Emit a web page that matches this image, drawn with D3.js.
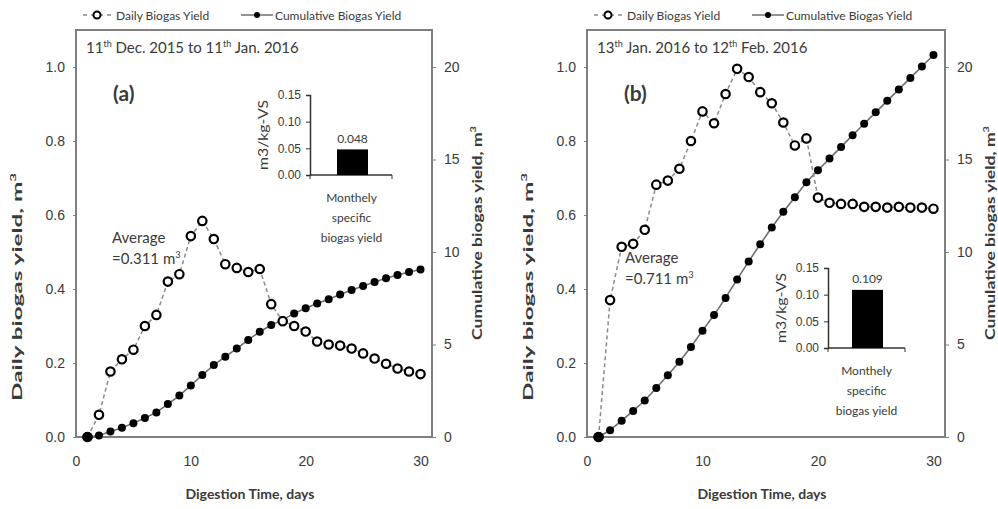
<!DOCTYPE html>
<html>
<head>
<meta charset="utf-8">
<script src="https://cdn.jsdelivr.net/npm/d3@7"></script>
<style>
  body { margin: 0; background: #fff; }
  svg { font-family: Lato, "Open Sans", sans-serif; }
  text { fill: #3a3a3a; }
</style>
</head>
<body>
<svg width="998" height="509"></svg>
<script>
// data
const days = d3.range(1, 31);

const dailyA = [0, 0.06, 0.177, 0.21, 0.236, 0.30, 0.33, 0.42, 0.44, 0.543,
  0.584, 0.535, 0.467, 0.457, 0.446, 0.454, 0.359, 0.313, 0.30, 0.285,
  0.258, 0.25, 0.247, 0.239, 0.226, 0.212, 0.198, 0.185, 0.177, 0.17];
const cumulativeA = [0, 0.08, 0.3, 0.5, 0.75, 1.03, 1.33, 1.78, 2.24, 2.79,
  3.35, 3.89, 4.34, 4.78, 5.25, 5.69, 6.05, 6.33, 6.68, 6.96,
  7.22, 7.45, 7.7, 7.94, 8.16, 8.38, 8.58, 8.76, 8.92, 9.05];

const dailyB = [0, 0.37, 0.514, 0.522, 0.56, 0.682, 0.693, 0.725, 0.80, 0.88,
  0.848, 0.927, 0.995, 0.973, 0.932, 0.902, 0.85, 0.788, 0.807, 0.647,
  0.633, 0.63, 0.63, 0.622, 0.622, 0.62, 0.622, 0.62, 0.62, 0.617];
const cumulativeB = [0, 0.37, 0.88, 1.41, 1.97, 2.65, 3.34, 4.07, 4.87, 5.75,
  6.59, 7.52, 8.52, 9.49, 10.42, 11.32, 12.17, 12.96, 13.77, 14.42,
  15.05, 15.68, 16.31, 16.93, 17.55, 18.17, 18.79, 19.41, 20.03, 20.65];

const specificYield = [0.048, 0.109];
const xTicks = [0, 10, 20, 30];
const yLeftTicks = [0, 0.2, 0.4, 0.6, 0.8, 1.0];
const yRightTicks = [0, 5, 10, 15, 20];
const insetTicks = [0, 0.05, 0.10, 0.15];

const panels = [
  {
    daily: dailyA, cumulative: cumulativeA, spec: specificYield[0],
    label: "(a)", from: ["11", "th", " Dec. 2015 to 11", "th", " Jan. 2016"],
    avg: "=0.311 m", left: 76, right: 432,
    avgPos: [112, 238], inset: {x0: 310, x1: 392, y0: 175, barX: 337, barW: 31}
  },
  {
    daily: dailyB, cumulative: cumulativeB, spec: specificYield[1],
    label: "(b)", from: ["13", "th", " Jan. 2016 to 12", "th", " Feb. 2016"],
    avg: "=0.711 m", left: 587, right: 945,
    avgPos: [625, 258], inset: {x0: 828, x1: 905, y0: 348, barX: 852, barW: 31}
  }
];

const plotTop = 30, plotBottom = 437;
const svg = d3.select("svg");
const grey = "#7f7f7f";

// text with a small raised "3" at the end
function withCube(sel, main, size) {
  sel.append("tspan").text(main);
  sel.append("tspan").attr("dy", -size * 0.4).attr("font-size", size * 0.62).text("3");
  return sel;
}

// rotated title, stretched along its length like the (vertically stretched) source image
function vTitle(g, cx, cy, main, len) {
  const t = withCube(g.append("text")
    .attr("text-anchor", "middle").attr("dy", "0.35em")
    .attr("font-weight", "bold").attr("font-size", 13.5), main, 13.5);
  const w = t.node().getComputedTextLength();
  t.attr("transform", `translate(${cx},${cy}) rotate(-90) scale(${len / w},1)`);
}

panels.forEach(p => {
  const g = svg.append("g");
  const x = d3.scaleLinear().domain([0, 31]).range([p.left, p.right]);
  const yL = d3.scaleLinear().domain([0, 1.1]).range([plotBottom, plotTop]);
  const yR = d3.scaleLinear().domain([0, 22]).range([plotBottom, plotTop]);

  // axes
  const ax = g.append("g").attr("transform", `translate(0,${plotBottom})`)
    .call(d3.axisBottom(x).tickValues(xTicks).tickSize(0).tickPadding(19));
  const ayL = g.append("g").attr("transform", `translate(${p.left},0)`)
    .call(d3.axisLeft(yL).tickValues(yLeftTicks).tickFormat(d3.format(".1f")).tickSize(3).tickPadding(8));
  const ayR = g.append("g").attr("transform", `translate(${p.right},0)`)
    .call(d3.axisRight(yR).tickValues(yRightTicks).tickSize(4).tickPadding(8));
  [ax, ayL, ayR].forEach(a => {
    a.select(".domain").remove();
    a.selectAll("line").attr("stroke", grey);
    a.selectAll("text").attr("font-size", 14).attr("fill", "#444");
  });

  // plot box
  g.append("rect")
    .attr("x", p.left).attr("y", plotTop)
    .attr("width", p.right - p.left).attr("height", plotBottom - plotTop)
    .attr("fill", "none").attr("stroke", grey).attr("stroke-width", 2);

  // axis titles
  vTitle(g, p.left - 59, 287, "Daily biogas yield, m", 228);
  vTitle(g, p.right + 45, 233, "Cumulative biogas yield, m", 214);
  g.append("text")
    .attr("x", (p.left + p.right) / 2 - 4).attr("y", 493)
    .attr("text-anchor", "middle").attr("dominant-baseline", "central")
    .attr("font-weight", "bold").attr("font-size", 14)
    .text("Digestion Time, days");

  // period text
  const t = g.append("text").attr("x", p.left + 10).attr("y", 53).attr("font-size", 15);
  p.from.forEach((s, i) => {
    const ts = t.append("tspan").text(s);
    if (i % 2 === 1) ts.attr("dy", -6).attr("font-size", 9);
    else if (i > 0) ts.attr("dy", 6);
  });

  g.append("text")
    .attr("x", p.left + 37).attr("y", 101)
    .attr("font-size", 21).attr("font-weight", "bold").attr("fill", "#111")
    .text(p.label);

  // average note
  g.append("text").attr("x", p.avgPos[0]).attr("y", p.avgPos[1] + 5)
    .attr("font-size", 15).text("Average");
  withCube(g.append("text").attr("x", p.avgPos[0]).attr("y", p.avgPos[1] + 26)
    .attr("font-size", 15), p.avg, 15);

  // cumulative series
  g.append("path").datum(p.cumulative)
    .attr("fill", "none").attr("stroke", "#6e6e6e").attr("stroke-width", 1.6)
    .attr("d", d3.line().x((d, i) => x(days[i])).y(d => yR(d)));
  g.selectAll(".cum").data(p.cumulative).join("circle")
    .attr("cx", (d, i) => x(days[i])).attr("cy", d => yR(d))
    .attr("r", 4).attr("fill", "#000");

  // daily series
  g.append("path").datum(p.daily)
    .attr("fill", "none").attr("stroke", "#8a8a8a").attr("stroke-width", 1.5)
    .attr("stroke-dasharray", "4,3")
    .attr("d", d3.line().x((d, i) => x(days[i])).y(d => yL(d)));
  g.selectAll(".day").data(p.daily).join("circle")
    .attr("cx", (d, i) => x(days[i])).attr("cy", d => yL(d))
    .attr("r", 4.2).attr("fill", "#fff").attr("stroke", "#000").attr("stroke-width", 2.2);
  // start point drawn solid
  g.append("circle").attr("cx", x(days[0])).attr("cy", yL(p.daily[0]))
    .attr("r", 5).attr("fill", "#000");

  // inset bar chart
  const ins = p.inset;
  const yI = d3.scaleLinear().domain([0, 0.15]).range([ins.y0, ins.y0 - 80]);
  const iAx = g.append("g").attr("transform", `translate(${ins.x0},0)`)
    .call(d3.axisLeft(yI).tickValues(insetTicks).tickFormat(d3.format(".2f")).tickSize(4).tickPadding(5));
  iAx.select(".domain").attr("stroke", "#333").attr("stroke-width", 1.5);
  iAx.selectAll("line").attr("stroke", "#333");
  iAx.selectAll("text").attr("font-size", 12).attr("fill", "#444");
  g.append("line").attr("x1", ins.x0).attr("x2", ins.x1)
    .attr("y1", ins.y0).attr("y2", ins.y0).attr("stroke", "#333").attr("stroke-width", 1.5);
  [ins.x0, ins.x1].forEach(xx => g.append("line").attr("x1", xx).attr("x2", xx)
    .attr("y1", ins.y0).attr("y2", ins.y0 + 4).attr("stroke", "#333"));
  g.append("rect").attr("x", ins.barX).attr("width", ins.barW)
    .attr("y", yI(p.spec)).attr("height", ins.y0 - yI(p.spec)).attr("fill", "#000");
  g.append("text").attr("x", ins.barX + ins.barW / 2).attr("y", yI(p.spec) - 11)
    .attr("text-anchor", "middle").attr("dominant-baseline", "central")
    .attr("font-size", 12).text(d3.format(".3f")(p.spec));
  const it = g.append("text")
    .attr("text-anchor", "middle").attr("dy", "0.35em")
    .attr("font-size", 13).text("m3/kg-VS");
  it.attr("transform", `translate(${ins.x0 - 47},${ins.y0 - 40}) rotate(-90) scale(${70 / it.node().getComputedTextLength()},1)`);
  ["Monthely", "specific", "biogas yield"].forEach((s, i) => {
    g.append("text").attr("x", ins.barX + ins.barW / 2 - 1).attr("y", ins.y0 + 22 + i * 20)
      .attr("text-anchor", "middle").attr("dominant-baseline", "central")
      .attr("font-size", 12).text(s);
  });

  // legend
  const lg = g.append("g").attr("transform", `translate(${p.left + 7},15)`);
  lg.append("line").attr("x1", 0).attr("x2", 29).attr("y1", 0).attr("y2", 0)
    .attr("stroke", "#8a8a8a").attr("stroke-width", 1.5).attr("stroke-dasharray", "4,4");
  lg.append("circle").attr("cx", 14).attr("cy", 0).attr("r", 3.5)
    .attr("fill", "#fff").attr("stroke", "#000").attr("stroke-width", 2);
  lg.append("text").attr("x", 33).attr("y", 0).attr("dominant-baseline", "central")
    .attr("font-size", 12).text("Daily Biogas Yield");
  lg.append("line").attr("x1", 158).attr("x2", 190).attr("y1", 0).attr("y2", 0)
    .attr("stroke", "#6e6e6e").attr("stroke-width", 1.5);
  lg.append("circle").attr("cx", 174).attr("cy", 0).attr("r", 3).attr("fill", "#000");
  lg.append("text").attr("x", 192).attr("y", 0).attr("dominant-baseline", "central")
    .attr("font-size", 12).text("Cumulative Biogas Yield");
});
</script>
</body>
</html>
